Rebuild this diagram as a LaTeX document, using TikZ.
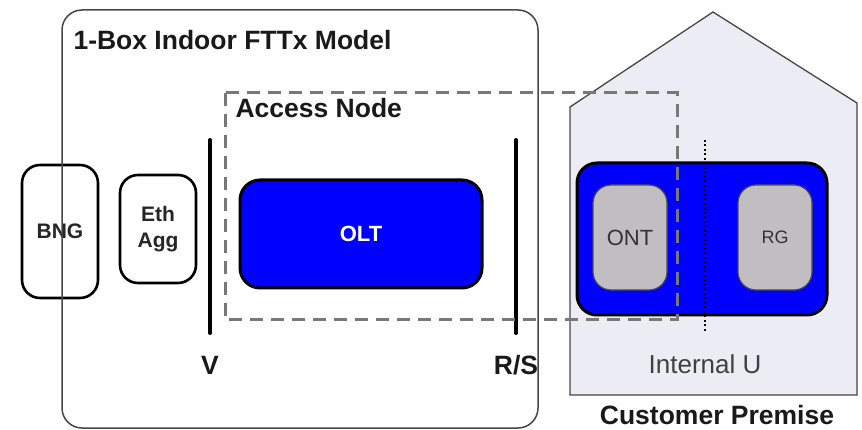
\documentclass[tikz,border=0pt]{standalone}
\usepackage{fontspec}
\setmainfont{Liberation Sans}
\usepackage{tikz}

\definecolor{houseFill}{RGB}{236,236,245}
\definecolor{boxGray}{RGB}{192,190,193}
\definecolor{dashGray}{RGB}{120,120,120}
\definecolor{frameGray}{RGB}{70,70,70}

\tikzset{
  blackbox/.style={draw=black, line width=2.6pt, rounded corners=18pt, font=\fontsize{21}{26}\selectfont\bfseries, text=black!85, align=center},
  bluebox/.style={draw=black, line width=3pt, fill=blue, rounded corners=20pt},
  graybox/.style={draw=black!70, line width=1.2pt, fill=boxGray, rounded corners=18pt, text=black!80},
  bar/.style={line width=4pt, line cap=round},
  biglabel/.style={font=\fontsize{26.5}{30}\selectfont\bfseries, text=black!90}
}

\begin{document}
\begin{tikzpicture}[x=1pt, y=-1pt]
        \useasboundingbox (0,0) rectangle (862,430);
        % customer premise house
        \draw[draw=frameGray, line width=1.3pt, fill=houseFill] (570,395) -- (570,107) -- (713,12) -- (857,103) -- (857,395) -- cycle;
        \node[biglabel] (cp) at (717,415) {Customer Premise};
        \node[font=\fontsize{26}{30}\selectfont, text=black!75] (iu) at (705,364) {Internal U};
        % boxes on the left
        \node[blackbox, minimum width=76pt, minimum height=133pt] (bng) at (60,231.5) {BNG};
        \node[blackbox, minimum width=76pt, minimum height=108pt] (eth) at (158,229) {Eth\\Agg};
        \node[bluebox, minimum width=242pt, minimum height=108pt, font=\fontsize{22}{26}\selectfont\bfseries, text=white] (olt) at (361,234) {OLT};
        % outer model frame
        \draw[draw=frameGray, line width=1.5pt, rounded corners=20pt] (62,10) rectangle (538,428);
        \node[biglabel, anchor=west] (model) at (70,40) {1-Box Indoor FTTx Model};
        % reference points
        \coordinate (vtop) at (210,140);
        \coordinate (vbot) at (210,333);
        \coordinate (rtop) at (516,140);
        \coordinate (rbot) at (516,333);
        \draw[bar] (vtop) -- (vbot);
        \draw[bar] (rtop) -- (rbot);
        \node[biglabel] (v) at (210,365) {V};
        \node[biglabel] (rs) at (516,365) {R/S};
        % home devices
        \node[bluebox, minimum width=250pt, minimum height=152pt] (cpe) at (702,239) {};
        \node[graybox, minimum width=74pt, minimum height=105pt, font=\fontsize{22}{26}\selectfont] (ont) at (630,237.5) {ONT};
        \node[graybox, minimum width=74pt, minimum height=105pt, font=\fontsize{18}{22}\selectfont] (rg) at (775,237.5) {RG};
        \coordinate (utop) at (705,140);
        \coordinate (ubot) at (705,333);
        \draw[line width=1.8pt, dash pattern=on 2pt off 2.5pt] (utop) -- (ubot);
        % access node
        \draw[draw=dashGray, line width=3pt, dash pattern=on 13pt off 8pt] (225,93) rectangle (677,320);
        \node[biglabel, anchor=west] (an) at (232,108) {Access Node};
\end{tikzpicture}
\end{document}
